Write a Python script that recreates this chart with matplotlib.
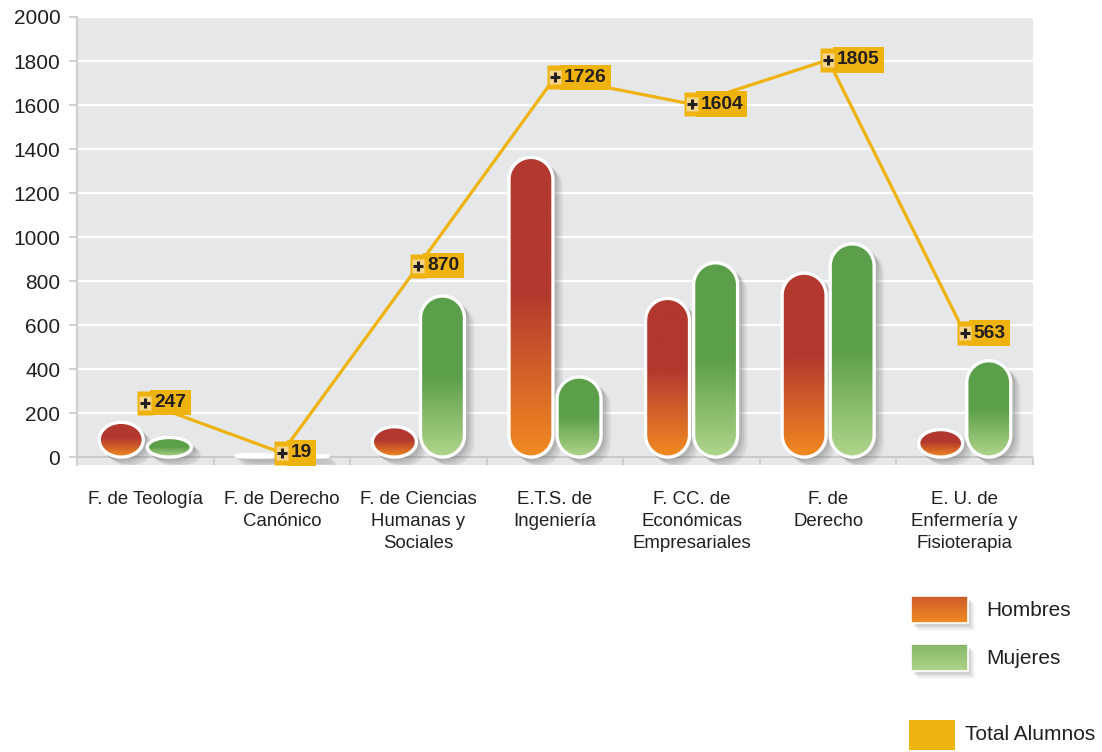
import matplotlib

matplotlib.use("Agg")
import matplotlib.pyplot as plt
import numpy as np
from matplotlib import transforms
from matplotlib.patches import Polygon, Rectangle
from matplotlib.path import Path

plt.rcParams["font.family"] = ["Liberation Sans", "DejaVu Sans"]

categories = [
    "F. de Teología",
    "F. de Derecho\nCanónico",
    "F. de Ciencias\nHumanas y\nSociales",
    "E.T.S. de\nIngeniería",
    "F. CC. de\nEconómicas\nEmpresariales",
    "F. de\nDerecho",
    "E. U. de\nEnfermería y\nFisioterapia",
]
hombres = [158, 12, 138, 1362, 721, 836, 125]
mujeres = [89, 7, 732, 364, 883, 969, 438]
totales = [247, 19, 870, 1726, 1604, 1805, 563]
y_ticks = [0, 200, 400, 600, 800, 1000, 1200, 1400, 1600, 1800, 2000]

TEXT = "#231f20"
YELLOW = "#efb30f"
RED_TOP, RED_BOT = "#b3382f", "#f28b21"
GREEN_TOP, GREEN_BOT = "#5c9f4a", "#b0d58c"

W, H = 1102, 752
fig = plt.figure(figsize=(W / 100, H / 100), dpi=100)
ax_box = (77, 17, 1033, 465)  # left, top, right, bottom in pixels
ax = fig.add_axes([ax_box[0] / W, 1 - ax_box[3] / H,
                   (ax_box[2] - ax_box[0]) / W, (ax_box[3] - ax_box[1]) / H])
ax.set_facecolor("#e6e7e8")
x_lim = (-0.5, len(categories) - 0.5)
y_lim = (-36, 2000)

px_x = (ax_box[2] - ax_box[0]) / (x_lim[1] - x_lim[0])
px_y = (ax_box[3] - ax_box[1]) / (y_lim[1] - y_lim[0])


def hex_rgb(c):
    c = c.lstrip("#")
    return np.array([int(c[k:k + 2], 16) / 255 for k in (0, 2, 4)])


def gradient(top, bottom, split=0.5, n=256):
    # row 0 = bottom; solid top colour above `split`
    t = np.linspace(0, 1, n)
    f = np.clip(t / split, 0, 1)
    a, b = hex_rgb(bottom), hex_rgb(top)
    rows = a[None, :] * (1 - f[:, None]) + b[None, :] * f[:, None]
    return rows[:, None, :]


def capsule(xc, w, h):
    rx = w / 2
    ry = min(rx * px_x / px_y, h / 2)
    th_top = np.linspace(0, np.pi, 48)
    th_bot = np.linspace(np.pi, 2 * np.pi, 48)
    xs = np.concatenate([xc + rx * np.cos(th_top), xc + rx * np.cos(th_bot)])
    ys = np.concatenate([h - ry + ry * np.sin(th_top), ry + ry * np.sin(th_bot)])
    return np.column_stack([xs, ys])


def draw_bar(xc, w, h, top, bottom, split):
    verts = capsule(xc, w, h)
    for dx, dy, al in [(3, -3, 0.10), (5, -5, 0.08), (7, -7, 0.06), (9, -8, 0.04)]:
        tr = transforms.offset_copy(ax.transData, fig=fig, x=dx, y=dy, units="dots")
        ax.add_patch(Polygon(verts, closed=True, fc="#404040", ec="#404040",
                             lw=2, alpha=al, transform=tr, zorder=2.5))
    body = Polygon(verts, closed=True, fc="none", ec="white", lw=2.4, zorder=3.2)
    ax.add_patch(body)
    im = ax.imshow(gradient(top, bottom, split), extent=[xc - w / 2, xc + w / 2, 0, h],
                   origin="lower", aspect="auto", interpolation="bilinear", zorder=3)
    im.set_clip_path(body)


x = np.arange(len(categories))
bar_w = 0.322
off = 0.176
for i in x:
    draw_bar(i - off, bar_w, hombres[i], RED_TOP, RED_BOT, 0.55)
    draw_bar(i + off, bar_w, mujeres[i], GREEN_TOP, GREEN_BOT, 0.5)

# total line with labels
ax.plot(x, totales, color=YELLOW, lw=2.3, zorder=5, solid_joinstyle="miter")
box_marker = Path([(-8, -12), (8, -12), (8, 12), (-8, 12), (-8, -12)], closed=True)
light_marker = Path([(-6, -7), (6, -7), (6, 7), (-6, 7), (-6, -7)], closed=True)
for i, v in zip(x, totales):
    ax.plot(i, v, marker=box_marker, ms=17.3, color=YELLOW, mec="none", zorder=6)
    ax.plot(i, v, marker=light_marker, ms=10, color="#f6d68a", mec="none", zorder=7)
    ax.plot(i, v, marker="+", ms=7.5, mew=2.2, color=TEXT, zorder=8)
    ax.annotate(f"{v}", (i, v), xytext=(9, 0), textcoords="offset pixels",
                ha="left", va="center", fontsize=13.8, fontweight="bold", color=TEXT,
                bbox=dict(boxstyle="square,pad=0.22", fc=YELLOW, ec="none"), zorder=6)

ax.set_xlim(*x_lim)
ax.set_ylim(*y_lim)
ax.set_yticks(y_ticks)
ax.yaxis.grid(True, color="white", lw=1.6)
ax.set_axisbelow(True)
ax.axhline(0, color="#c8c9cb", lw=1.5, zorder=1.5)

ax.set_xticks(x)
ax.set_xticklabels(categories, fontsize=13.4, color=TEXT, linespacing=1.38)
ax.set_xticks(np.arange(x_lim[0], x_lim[1] + 0.5, 1), minor=True)
ax.tick_params(axis="x", which="major", length=0, pad=19)
ax.tick_params(axis="x", which="minor", direction="in", length=6, width=1.2, color="#c8c9cb")
ax.tick_params(axis="y", length=6, width=1.2, color="#c8c9cb", labelsize=15,
               labelcolor=TEXT, pad=6)
for s in ("top", "right", "bottom"):
    ax.spines[s].set_visible(False)
ax.spines["left"].set_color("#cfd0d2")
ax.spines["left"].set_linewidth(1.5)

# legend in pixel coordinates
lg = fig.add_axes([880 / W, 0, (W - 880) / W, 180 / H])
lg.axis("off")
for (y0, top, bottom, label) in [(596, "#cd5a2a", "#f08b22", "Hombres"),
                                  (644, "#86b766", "#afd38b", "Mujeres")]:
    for dx, dy, al in [(3, 4, 0.12), (5, 6, 0.08), (7, 8, 0.05)]:
        lg.add_patch(Rectangle((911 + dx, y0 + dy), 57, 27, fc="#404040", ec="none", alpha=al))
    g = gradient(top, bottom, split=1.0)[::-1]
    lg.imshow(g, extent=[911, 968, y0 + 27, y0], origin="upper", aspect="auto",
              interpolation="bilinear", zorder=2)
    lg.add_patch(Rectangle((911, y0), 57, 27, fc="none", ec="white", lw=1.2, zorder=3))
    lg.text(986, y0 + 14, label, fontsize=15, color=TEXT, va="center", ha="left")
lg.add_patch(Rectangle((909, 720), 46, 30, fc=YELLOW, ec="none"))
lg.text(965, 735, "Total Alumnos", fontsize=15, color=TEXT, va="center", ha="left")
lg.set_xlim(880, W)
lg.set_ylim(H, H - 180)

fig.savefig("out.png", dpi=100)
